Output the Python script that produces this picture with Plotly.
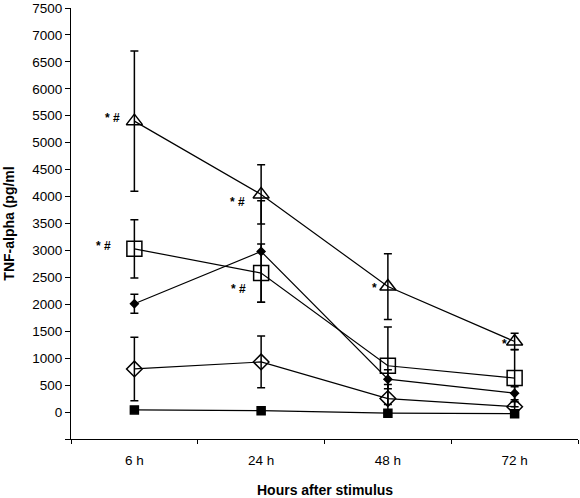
import plotly.graph_objects as go

categories = ["6 h", "24 h", "48 h", "72 h"]

tri_vals = [5400, 4040, 2330, 1310]
tri_err = [1300, 550, 610, 155]

sq_vals = [3030, 2580, 860, 630]
sq_err = [540, 540, 720, 530]

fdia_vals = [2010, 2980, 610, 350]
fdia_err = [175, 940, 175, 120]

odia_vals = [800, 930, 250, 100]
odia_err = [590, 480, 260, 90]

fsq_vals = [40, 25, -20, -30]
fsq_err = [20, 20, 20, 20]

y_ticks = [-500, 0, 500, 1000, 1500, 2000, 2500, 3000, 3500, 4000, 4500,
           5000, 5500, 6000, 6500, 7000, 7500]
y_ticktext = [""] + [str(v) for v in y_ticks[1:]]

# significance markers: (category, value, text)
sig_cats = ["6 h", "6 h", "24 h", "24 h", "48 h", "72 h"]
sig_vals = [5450, 3080, 3900, 2290, 2300, 1270]
sig_text = ["* #", "* #", "* #", "* #", "*", "*"]
sig_shift = [-22, -31, -24, -23, -13, -10]

series = [
    (fsq_vals, fsq_err, "square", 8),
    (odia_vals, odia_err, "diamond-open", 12),
    (fdia_vals, fdia_err, "diamond", 6),
    (sq_vals, sq_err, "square-open", 15),
    (tri_vals, tri_err, "triangle-up-open", 14),
]

FONT = "Liberation Sans, Arial"

fig = go.Figure()
for vals, err, sym, size in series:
    fig.add_trace(go.Scatter(
        x=categories, y=vals, mode="lines+markers",
        line=dict(color="black", width=1.2),
        marker=dict(symbol=sym, size=size, color="black",
                    line=dict(color="black", width=1.5)),
        error_y=dict(type="data", array=err, visible=True,
                     color="black", thickness=1.5, width=4),
        showlegend=False,
    ))

for c, v, t, s in zip(sig_cats, sig_vals, sig_text, sig_shift):
    fig.add_annotation(x=c, y=v, text="<b>" + t + "</b>", showarrow=False,
                       xshift=s, font=dict(size=12, color="black", family=FONT))

fig.add_annotation(xref="paper", yref="paper", x=0.5, y=-0.118,
                   text="<b>Hours after stimulus</b>", showarrow=False,
                   yanchor="middle",
                   font=dict(size=14, color="black", family=FONT))
fig.add_annotation(xref="paper", yref="paper", x=-0.124, y=0.5,
                   text="<b>TNF-alpha (pg/ml</b>", showarrow=False, textangle=-90,
                   xanchor="center", yanchor="middle",
                   font=dict(size=14, color="black", family=FONT))

fig.update_layout(
    width=580, height=498,
    margin=dict(l=71, r=2, t=8, b=59),
    plot_bgcolor="white", paper_bgcolor="white",
    font=dict(family=FONT, size=13.5, color="black"),
    xaxis=dict(type="category", range=[-0.5, 3.5], tickson="boundaries",
               ticks="outside", ticklen=4, tickcolor="black",
               ticklabelstandoff=9,
               showline=True, linecolor="black", linewidth=1.2,
               showgrid=False, zeroline=False),
    yaxis=dict(range=[-500, 7500], tickvals=y_ticks, ticktext=y_ticktext,
               ticks="outside", ticklen=5, tickcolor="black",
               showline=True, linecolor="black", linewidth=1.2,
               showgrid=False, zeroline=False),
)

fig.write_html("out.html",
               config={"displayModeBar": False},
               post_script="document.body.style.margin='0';"
                           "document.body.style.overflow='hidden';")
